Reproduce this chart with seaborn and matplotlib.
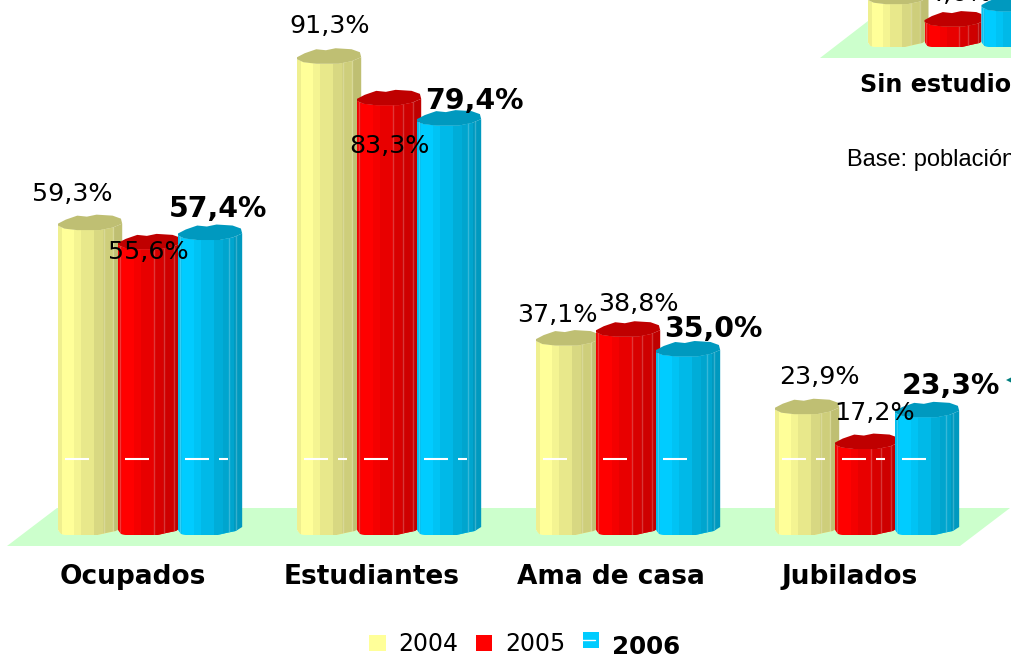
import numpy as np
import pandas as pd
import seaborn as sns
import matplotlib
matplotlib.use("Agg")
import matplotlib.pyplot as plt
from matplotlib.lines import Line2D
from matplotlib.patches import Patch, Polygon
from matplotlib.transforms import ScaledTranslation

# ==========================================
# DATA
# ==========================================
YEARS = ["2004", "2005", "2006"]
CATEGORIES = ["Ocupados", "Estudiantes", "Ama de casa", "Jubilados"]
VALUES_2004 = [59.3, 91.3, 37.1, 23.9]
VALUES_2005 = [55.6, 83.3, 38.8, 17.2]
VALUES_2006 = [57.4, 79.4, 35.0, 23.3]

# second chart, cut off by the top right corner of the picture
CATEGORIES_B = ["Sin estudios"]
VALUES_B_2004 = [8.9]
VALUES_B_2005 = [4.6]
VALUES_B_2006 = [7.5]

# ==========================================
# LAYOUT / STYLE
# ==========================================
W, H = 1012, 665
PX_PER_UNIT = 5.2      # pixels per 1%
PITCH = 239            # pixels between groups
COLORS = ["#FFFF99", "#FF0000", "#00CCFF"]

# facets of the fake 3D column: right edge (fraction of width) and brightness
FACET_EDGES = [0.06, 0.24, 0.36, 0.55, 0.70, 0.86, 1.0]
FACET_SHADE = [0.94, 1.00, 0.96, 0.91, 0.85, 0.81, 0.75]
PALE_LINES = [[0.72, 0.86], [0.03, 0.56, 0.72, 0.87], [0.03, 0.80, 0.90]]

# outlines: (fraction of width, pixels above the reference height)
TOP_FRONT = [(0, 1), (0.1, -2), (0.3, -3.5), (0.65, -3.5), (0.85, -1), (1, 3)]
TOP_BACK = [(0.98, 8), (0.85, 11), (0.6, 12), (0.45, 10), (0.3, 11), (0.12, 7), (0, 3)]
BOTTOM = [(0, 5), (0.05, 1), (0.2, -1), (0.55, -1), (0.75, 2), (0.9, 4), (1, 8)]

# label offsets in pixels from (left of bar, top of bar), per year then per group
LABEL_OFFSETS = [
    [(14, 33), (33, 34), (21, 27), (44, 34)],
    [(30, -6), (32, -44), (42, 29), (40, 33)],
    [(40, 28), (57, 21), (57, 24), (56, 28)],
]
LABEL_OFFSETS_B = [[(40, 33)], [(35, 29)], [(56, 28)]]
SECOND_DASH = [[False, True, False, True], [False, False, False, True], [True, True, False, False]]
DASH_VALUE = 14.6


def long_table(categories, series):
    rows = []
    for year, values in zip(YEARS, series):
        for cat, val in zip(categories, values):
            rows.append({"categoria": cat, "anio": year, "valor": val})
    return pd.DataFrame(rows)


def fmt(value):
    return f"{value:.1f}".replace(".", ",") + "%"


def draw_column(ax, bar, color, shade_base, pale, zorder):
    x0 = bar.get_x()
    w = bar.get_width() * 1.07
    top = bar.get_height()
    to_xy = lambda pts, base: [(x0 + u * w, base + p / PX_PER_UNIT) for u, p in pts]

    outline = to_xy(BOTTOM, 0) + to_xy(TOP_FRONT[::-1], top)
    body = Polygon(outline, closed=True, fc="none", ec="none", clip_on=False, zorder=zorder)
    ax.add_patch(body)

    # stepped shading, the way the old 3D column looks
    rgb = np.array(matplotlib.colors.to_rgb(color))
    samples = (np.arange(200) + 0.5) / 200
    idx = np.searchsorted(FACET_EDGES, samples)
    strip = np.array(FACET_SHADE)[idx][None, :, None] * rgb
    im = ax.imshow(strip, extent=(x0, x0 + w, -3, top + 3), aspect="auto",
                   interpolation="nearest", origin="lower", zorder=zorder, clip_on=True)
    im.set_clip_path(body)

    bar.set_zorder(zorder)
    bar.set_clip_path(body)

    for u in pale:
        ln, = ax.plot([x0 + u * w] * 2, [-3, top + 3], color="white", alpha=0.22, lw=1, zorder=zorder)
        ln.set_clip_path(body)

    cap = Polygon(to_xy(TOP_FRONT, top) + to_xy(TOP_BACK, top), closed=True,
                  fc=rgb * shade_base, ec="none", clip_on=False, zorder=zorder)
    ax.add_patch(cap)


def draw_chart(ax, categories, series, offsets, dashes=None, width=0.753, pad=21, label_shift=-15, label_size=19):
    df = long_table(categories, series)
    sns.barplot(data=df, x="categoria", y="valor", hue="anio", order=categories, hue_order=YEARS,
                palette=COLORS, width=width, gap=0, errorbar=None, legend=False,
                saturation=1, ax=ax)

    for i, container in enumerate(ax.containers):
        for j, bar in enumerate(container):
            zorder = 3 + i
            draw_column(ax, bar, COLORS[i], 0.75, PALE_LINES[i], zorder)
            x0, w = bar.get_x(), bar.get_width()

            if bar.get_height() > DASH_VALUE:
                ax.hlines(DASH_VALUE, x0 + 0.12 * w, x0 + 0.52 * w, color="white", lw=1.5, zorder=zorder)
                if dashes is not None and dashes[i][j]:
                    ax.hlines(DASH_VALUE, x0 + 0.68 * w, x0 + 0.83 * w, color="white", lw=1.5, zorder=zorder)

            bold = i == 2
            ax.annotate(fmt(series[i][j]), xy=(x0, bar.get_height()), xytext=offsets[i][j],
                        textcoords="offset pixels", ha="center", va="center", color="black",
                        fontsize=20.4 if bold else 18.3, fontweight="bold" if bold else "normal",
                        annotation_clip=False, zorder=20)

    ax.patch.set_visible(False)
    sns.despine(ax=ax, left=True, bottom=True, top=True, right=True)
    ax.set_xlabel("")
    ax.set_ylabel("")
    ax.set_yticks([])
    ax.tick_params(axis="x", length=0, pad=pad)
    shift = ScaledTranslation(label_shift / 100, 0, ax.figure.dpi_scale_trans)
    for lab in ax.get_xticklabels():
        lab.set_fontsize(label_size)
        lab.set_fontweight("bold")
        lab.set_color("black")
        lab.set_transform(lab.get_transform() + shift)


def px_axes(fig, baseline, center):
    # axes whose bottom is the chart baseline, sized so one % is PX_PER_UNIT pixels
    ax = fig.add_axes([0, (H - baseline) / H, 1, baseline / H])
    return ax, (-center / PITCH, (W - center) / PITCH), (0, baseline / PX_PER_UNIT)


def fig_xy(points):
    return [(x / W, 1 - y / H) for x, y in points]


def main():
    sns.set_style("white")
    plt.rcParams["font.family"] = ["DejaVu Sans"]
    fig = plt.figure(figsize=(W / 100, H / 100), dpi=100, facecolor="white")

    # green floors behind the columns
    floor_a = [(7, 546), (57, 508), (1010, 508), (960, 546)]
    floor_b = [(820, 58), (868, 21), (1012, 21), (1012, 58)]
    for pts in (floor_a, floor_b):
        fig.add_artist(Polygon(fig_xy(pts), closed=True, fc="#CCFFCC", ec="none",
                               transform=fig.transFigure, zorder=-1))

    ax, xlim, ylim = px_axes(fig, 535, 148)
    draw_chart(ax, CATEGORIES, [VALUES_2004, VALUES_2005, VALUES_2006], LABEL_OFFSETS, SECOND_DASH)
    ax.set_xlim(*xlim)
    ax.set_ylim(*ylim)

    ax_b, xlim_b, ylim_b = px_axes(fig, 47, 953)
    draw_chart(ax_b, CATEGORIES_B, [VALUES_B_2004, VALUES_B_2005, VALUES_B_2006], LABEL_OFFSETS_B,
               width=0.715, pad=19, label_shift=-10, label_size=17.2)
    ax_b.set_xlim(*xlim_b)
    ax_b.set_ylim(*ylim_b)

    fig.text(847 / W, 1 - 160 / H, "Base: población", family="Liberation Sans", fontsize=17,
             ha="left", va="center", color="black")

    # small arrow head at the right edge
    fig.add_artist(Polygon(fig_xy([(1006, 380), (1012, 377), (1012, 383)]), closed=True, fc="#007F7F",
                           ec="none", transform=fig.transFigure))

    # legend
    handles = [Patch(fc=c, ec="none", label=y) for c, y in zip(COLORS, YEARS)]
    leg = fig.legend(handles=handles, loc="center", bbox_to_anchor=(525 / W, 1 - 644 / H), ncol=3,
                     frameon=False, fontsize=17, handlelength=0.68, handleheight=0.68,
                     handletextpad=0.55, columnspacing=0.75, borderpad=0, borderaxespad=0,
                     labelcolor="black")
    leg.get_texts()[2].set_fontweight("bold")
    leg.get_texts()[2].set_fontsize(17.7)
    leg.get_texts()[2].set_y(-3)
    leg.get_patches()[2].set_y(3 * 0.72)
    fig.add_artist(Line2D([579 / W, 595 / W], [1 - 640 / H] * 2, color="white", lw=1,
                          transform=fig.transFigure, zorder=10))

    fig.savefig("out.png", dpi=100, facecolor="white")
    plt.close(fig)


if __name__ == "__main__":
    main()
